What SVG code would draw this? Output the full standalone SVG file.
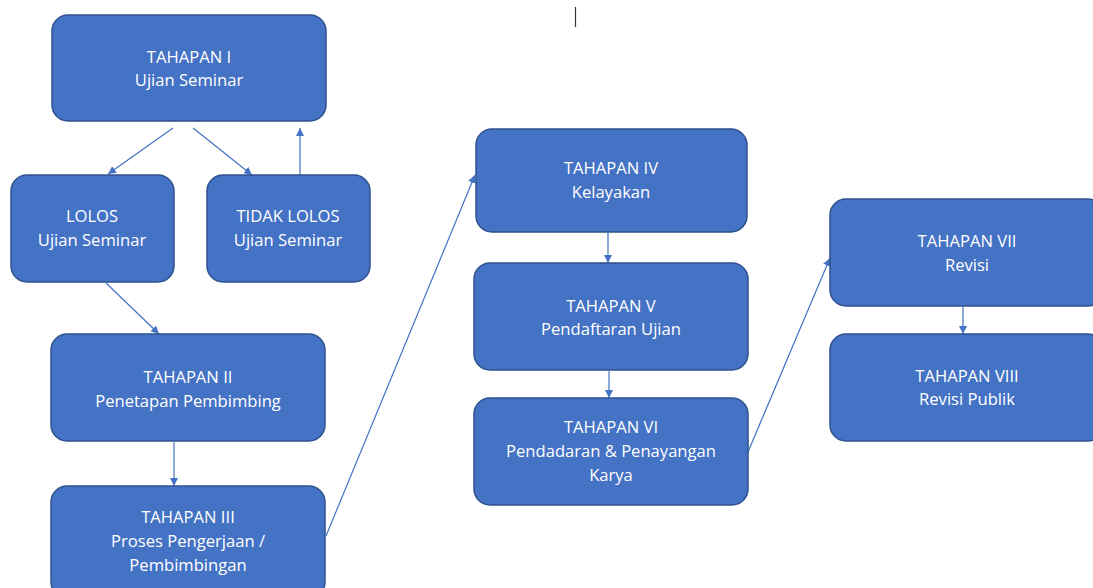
<svg xmlns="http://www.w3.org/2000/svg" width="1093" height="588" viewBox="0 0 1093 588">
<defs>
<marker id="ah" viewBox="0 0 10 10" refX="10" refY="5" markerWidth="8" markerHeight="8" markerUnits="userSpaceOnUse" orient="auto">
<path d="M0,0 L10,5 L0,10 z" fill="#4472C4"/>
</marker>
<style>
.box{fill:#4472C4;stroke:#2F528F;stroke-width:1.5}
.t{font-family:"Open Sans","Liberation Sans",sans-serif;font-size:16.6px;fill:#ffffff;text-anchor:middle}
.c{stroke:#4472C4;stroke-width:1.2;fill:none;marker-end:url(#ah)}
</style>
</defs>
<rect width="1093" height="588" fill="#ffffff"/>
<line x1="575.5" y1="7" x2="575.5" y2="27" stroke="#333" stroke-width="1.2"/>
<g id="connectors">
<line class="c" x1="173" y1="128" x2="108" y2="174"/>
<line class="c" x1="193" y1="128" x2="252" y2="175"/>
<line class="c" x1="300" y1="175" x2="300" y2="128"/>
<line class="c" x1="106" y1="283" x2="159" y2="334"/>
<line class="c" x1="174" y1="442" x2="174" y2="486"/>
<line class="c" x1="326" y1="536" x2="475" y2="175"/>
<line class="c" x1="608" y1="233" x2="608" y2="263"/>
<line class="c" x1="609" y1="371" x2="609" y2="398"/>
<line class="c" x1="748" y1="452" x2="830" y2="258"/>
<line class="c" x1="963" y1="307" x2="963" y2="334"/>
</g>
<g id="n1"><rect class="box" x="52" y="15" width="274" height="106" rx="16"/>
<text class="t" x="189" y="63">TAHAPAN I</text><text class="t" x="189" y="86">Ujian Seminar</text></g>
<g id="n_lolos"><rect class="box" x="11" y="175" width="163" height="107" rx="16"/>
<text class="t" x="92" y="222">LOLOS</text><text class="t" x="92" y="246">Ujian Seminar</text></g>
<g id="n_tidak"><rect class="box" x="207" y="175" width="163" height="107" rx="16"/>
<text class="t" x="288" y="222">TIDAK LOLOS</text><text class="t" x="288" y="246">Ujian Seminar</text></g>
<g id="n2"><rect class="box" x="51" y="334" width="274" height="107" rx="16"/>
<text class="t" x="188" y="383">TAHAPAN II</text><text class="t" x="188" y="407">Penetapan Pembimbing</text></g>
<g id="n3"><rect class="box" x="51" y="486" width="274" height="112" rx="16"/>
<text class="t" x="188" y="523">TAHAPAN III</text><text class="t" x="188" y="547">Proses Pengerjaan /</text><text class="t" x="188" y="571">Pembimbingan</text></g>
<g id="n4"><rect class="box" x="476" y="129" width="271" height="103" rx="16"/>
<text class="t" x="611" y="174">TAHAPAN IV</text><text class="t" x="611" y="198">Kelayakan</text></g>
<g id="n5"><rect class="box" x="474" y="263" width="274" height="107" rx="16"/>
<text class="t" x="611" y="312">TAHAPAN V</text><text class="t" x="611" y="335">Pendaftaran Ujian</text></g>
<g id="n6"><rect class="box" x="474" y="398" width="274" height="107" rx="16"/>
<text class="t" x="611" y="433">TAHAPAN VI</text><text class="t" x="611" y="457">Pendadaran &amp; Penayangan</text><text class="t" x="611" y="481">Karya</text></g>
<g id="n7"><rect class="box" x="830" y="199" width="274" height="107" rx="16"/>
<text class="t" x="967" y="247">TAHAPAN VII</text><text class="t" x="967" y="271">Revisi</text></g>
<g id="n8"><rect class="box" x="830" y="334" width="274" height="107" rx="16"/>
<text class="t" x="967" y="382">TAHAPAN VIII</text><text class="t" x="967" y="405">Revisi Publik</text></g>
</svg>
